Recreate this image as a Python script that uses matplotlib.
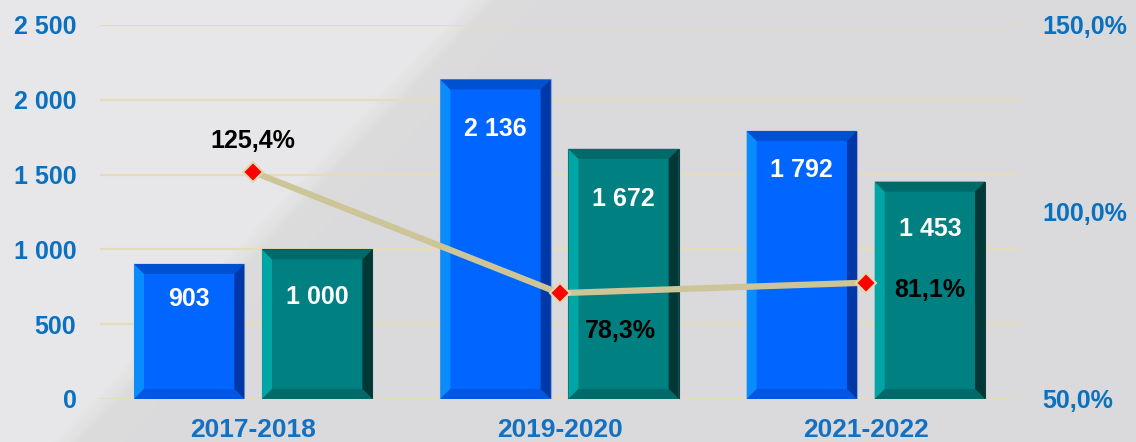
import numpy as np
import matplotlib
matplotlib.use('Agg')
import matplotlib.pyplot as plt
from matplotlib.patches import Polygon
from matplotlib.ticker import FuncFormatter

# data
categories = ['2017-2018', '2019-2020', '2021-2022']
blue_values = [903, 2136, 1792]
teal_values = [1000, 1672, 1453]
# the markers sit at these heights on the right axis, labels as printed
ratio_points = [110.7, 78.3, 81.1]
ratio_labels = ['125,4%', '78,3%', '81,1%']

plt.rcParams['font.family'] = ['Liberation Sans', 'DejaVu Sans']
plt.rcParams['font.weight'] = 'bold'

W, H = 1136, 442
fig = plt.figure(figsize=(W / 100, H / 100), dpi=100)

# background: light upper-left triangle, darker grey elsewhere
yy, xx = np.mgrid[0:H, 0:W]
# line from (473, 0) to (57, 442)
d = (xx - 473) + (yy * (473 - 57) / 442.0)
d = d / np.hypot(1, (473 - 57) / 442.0)
light = np.array([231, 231, 233]) / 255
dark = np.array([219, 219, 220]) / 255
t = np.clip((d + 4) / 8, 0, 1)[..., None]
img = light * (1 - t) + dark * t
stripe = np.exp(-((d - 6) / 7) ** 2)[..., None] * 0.03
img = np.clip(img + stripe, 0, 1)
bg = fig.add_axes([0, 0, 1, 1], zorder=-5)
bg.imshow(img, aspect='auto', interpolation='bilinear')
bg.axis('off')

ax = fig.add_axes([100 / W, 1 - 399 / H, 919 / W, 374 / H])
ax.set_facecolor('none')
ax.set_xlim(-0.5, 2.5)
ax.set_ylim(0, 2500)

x = np.arange(len(categories))
width = 0.36
off = 0.209
blue_bars = ax.bar(x - off, blue_values, width, color='#0066ff',
                   edgecolor='#9aa6c0', linewidth=0.8, zorder=3)
teal_bars = ax.bar(x + off, teal_values, width, color='#008080',
                   edgecolor='#1c3c3c', linewidth=0.8, zorder=3)

# bevel size in data units (about 10 px)
bx = 10 / (919 / 3)
by = 10 / (374 / 2500)


def bevel(bar, left, top, right, bottom):
    x0 = bar.get_x()
    x1 = x0 + bar.get_width()
    y0 = 0
    y1 = bar.get_height()
    polys = [
        ([(x0, y0), (x0 + bx, y0 + by), (x0 + bx, y1 - by), (x0, y1)], left),
        ([(x0, y1), (x0 + bx, y1 - by), (x1 - bx, y1 - by), (x1, y1)], top),
        ([(x1, y1), (x1 - bx, y1 - by), (x1 - bx, y0 + by), (x1, y0)], right),
        ([(x0, y0), (x1, y0), (x1 - bx, y0 + by), (x0 + bx, y0 + by)], bottom),
    ]
    for pts, c in polys:
        ax.add_patch(Polygon(pts, closed=True, facecolor=c, edgecolor='none', zorder=4))


for b in blue_bars:
    bevel(b, '#0a8cff', '#0050d2', '#0038a8', '#0058e0')
for b in teal_bars:
    bevel(b, '#00a6a6', '#006a6a', '#003838', '#006a6a')


def fmt(v):
    return f'{v:,}'.replace(',', ' ')


# how far below the bar top each value label sits (points)
blue_label_drop = [25, 36, 28]
teal_label_drop = [34, 36, 34]
for bars, vals, drops in ((blue_bars, blue_values, blue_label_drop),
                          (teal_bars, teal_values, teal_label_drop)):
    for b, v, dr in zip(bars, vals, drops):
        ax.annotate(fmt(v), (b.get_x() + b.get_width() / 2, v),
                    xytext=(0, -dr), textcoords='offset points',
                    ha='center', va='center', color='white',
                    fontsize=18, fontweight='bold', zorder=6)

# axes styling
for s in ax.spines.values():
    s.set_visible(False)
ax.set_yticks([0, 500, 1000, 1500, 2000, 2500])
ax.yaxis.set_major_formatter(FuncFormatter(lambda v, p: fmt(int(v))))
ax.grid(axis='y', color='#e6dcbc', linewidth=1.6, zorder=0)
ax.set_axisbelow(True)
ax.tick_params(axis='y', length=0, pad=17, labelsize=18, labelcolor='#0a70c0')
ax.set_xticks(x)
ax.set_xticklabels(categories)
ax.tick_params(axis='x', length=0, pad=14, labelsize=19, labelcolor='#1470c0')
for lab in ax.get_xticklabels() + ax.get_yticklabels():
    lab.set_fontweight('bold')

ax2 = ax.twinx()
ax2.set_ylim(50, 150)
ax2.set_yticks([50, 100, 150])
ax2.yaxis.set_major_formatter(FuncFormatter(lambda v, p: f'{v:.1f}%'.replace('.', ',')))
ax2.tick_params(axis='y', length=0, pad=17, labelsize=18, labelcolor='#0a70c0')
for lab in ax2.get_yticklabels():
    lab.set_fontweight('bold')
for s in ax2.spines.values():
    s.set_visible(False)

ax2.plot(x, ratio_points, color='#cdc597', linewidth=4.5, zorder=5,
         marker='D', markersize=10.5, markerfacecolor='#ff0000',
         markeredgecolor='#e0d8b0', markeredgewidth=1.5)

label_offsets = [(0, 22), (44, -27), (46, -5)]
for xi, yv, txt, o in zip(x, ratio_points, ratio_labels, label_offsets):
    ax2.annotate(txt, (xi, yv), xytext=o, textcoords='offset points',
                 ha='center', va='center', color='black',
                 fontsize=18, fontweight='bold', zorder=7)

fig.savefig('out.png', dpi=100)
